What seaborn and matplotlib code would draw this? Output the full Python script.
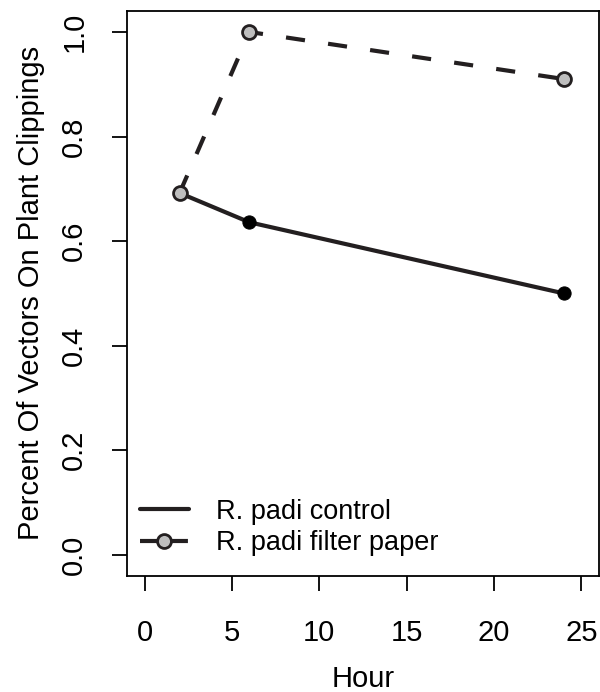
import matplotlib
matplotlib.use("Agg")
import matplotlib.pyplot as plt
import seaborn as sns
import pandas as pd
from matplotlib.lines import Line2D

hours = [2, 6, 24]
control = [0.692, 0.636, 0.50]
filter_paper = [0.692, 1.0, 0.91]
series_names = ["R. padi control", "R. padi filter paper"]
x_ticks = [0, 5, 10, 15, 20, 25]
y_ticks = [0.0, 0.2, 0.4, 0.6, 0.8, 1.0]

sns.set_style("white")
plt.rcParams['font.family'] = ['Liberation Sans', 'DejaVu Sans']
plt.rcParams['text.color'] = 'black'
plt.rcParams['axes.labelcolor'] = 'black'
plt.rcParams['xtick.color'] = 'black'
plt.rcParams['ytick.color'] = 'black'

df = pd.DataFrame({
    "Hour": hours * 2,
    "val": control + filter_paper,
    "series": [series_names[0]] * 3 + [series_names[1]] * 3,
})

fig = plt.figure(figsize=(6.0, 6.92), dpi=100)
ax = fig.add_axes([0.212, 0.168, 0.786, 0.816])

lc = "#231f20"
lw = 3.0
sns.lineplot(data=df[df.series == series_names[0]], x="Hour", y="val", ax=ax,
             color=lc, lw=lw, marker="o", markersize=9.5, markerfacecolor="black",
             markeredgecolor="black", legend=False)
sns.lineplot(data=df[df.series == series_names[1]], x="Hour", y="val", ax=ax,
             color=lc, lw=lw, marker="o", markersize=10, markerfacecolor="#bebebe",
             markeredgecolor=lc, markeredgewidth=2, legend=False, dashes=(4.6, 5.6))

handles = [
    Line2D([], [], color=lc, lw=lw),
    Line2D([], [], color=lc, lw=lw, dashes=(4.6, 2.3), marker="o", markersize=10,
           markerfacecolor="#bebebe", markeredgecolor=lc, markeredgewidth=2),
]
ax.legend(handles, series_names, loc="lower left", frameon=False, fontsize=19.5,
          handlelength=1.8, handletextpad=1.0, borderaxespad=0.0, labelspacing=0.2,
          borderpad=0.3, bbox_to_anchor=(0.01, 0.02))

ax.set_xlim(-1, 26)
ax.set_ylim(-0.04, 1.04)
ax.set_xticks(x_ticks)
ax.set_yticks(y_ticks)
ax.set_xticklabels([str(t) for t in x_ticks], fontsize=21)
ax.set_yticklabels([f"{t:.1f}" for t in y_ticks], fontsize=21, rotation=90, va="center")
ax.tick_params(axis="both", direction="out", length=11, width=1.3,
               bottom=True, left=True)
ax.tick_params(axis="x", pad=20)
ax.tick_params(axis="y", pad=17)
ax.set_xlabel("Hour", fontsize=21, labelpad=13)
ax.set_ylabel("Percent Of Vectors On Plant Clippings", fontsize=21, labelpad=11)
for s in ax.spines.values():
    s.set_visible(True)
    s.set_color("black")
    s.set_linewidth(1.3)

fig.savefig("out.png", dpi=100)
